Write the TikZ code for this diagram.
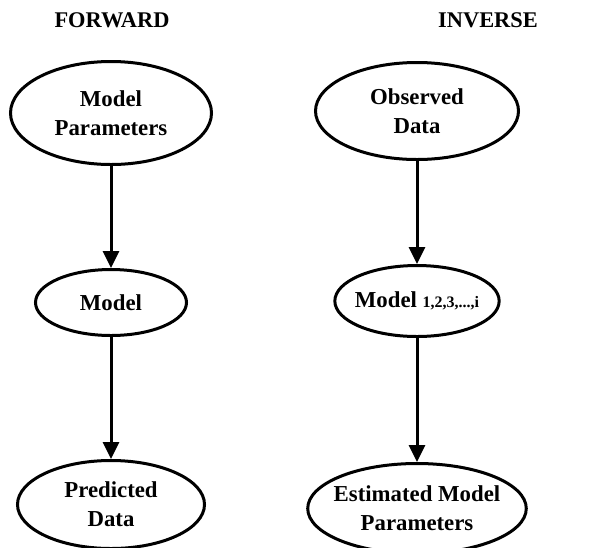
\documentclass[tikz,border=0pt]{standalone}
\usepackage{fontspec}
\setmainfont{Liberation Serif}
\usepackage{tikz}
\usetikzlibrary {arrows.meta,
                 positioning,
                 shapes.geometric}
\tikzset{
         oval/.style={draw, ellipse, line width=1.5pt, inner sep=0pt, align=center,
                      font=\bfseries\fontsize{11.4}{14.5}\selectfont},
         heading/.style={font=\bfseries\fontsize{11.2}{13}\selectfont},
         myarrow/.style={-{Triangle[width=8pt,length=8.5pt]}, line width=1.5pt},
}

\begin{document}
\begin{tikzpicture}
    \useasboundingbox (0pt,0pt) rectangle (304.5pt,-273.5pt);

    % Ueberschriften
    \node[heading] (fwd) at (56pt,-10pt) {FORWARD};
    \node[heading] (inv) at (244pt,-10pt) {INVERSE};

    % Vorwaerts
    \node[oval, minimum width=100.5pt, minimum height=51.5pt] (mp) at (55.5pt,-56.5pt) {Model\\Parameters};
    \node[oval, minimum width=75.5pt, minimum height=33pt, below=51pt of mp] (m) {Model};
    \node[oval, minimum width=93.5pt, minimum height=44pt, below=61pt of m] (pd) {Predicted\\Data};

    % Invers
    \node[oval, minimum width=101.5pt, minimum height=48.5pt] (od) at (208.5pt,-55.5pt) {Observed\\Data};
    \node[oval, minimum width=80.5pt, minimum height=35.5pt, inner xsep=-2pt, below=51.5pt of od] (mi)
         {Model {\fontsize{8}{9}\selectfont 1,2,3,...,i}};
    \node[oval, minimum width=109pt, minimum height=45pt, inner xsep=-3pt, below=62pt of mi] (emp)
         {Estimated Model\\Parameters};

    \draw[myarrow] (mp) -- (m);
    \draw[myarrow] (m) -- (pd);
    \draw[myarrow] (od) -- (mi);
    \draw[myarrow] (mi) -- (emp);
\end{tikzpicture}
\end{document}
